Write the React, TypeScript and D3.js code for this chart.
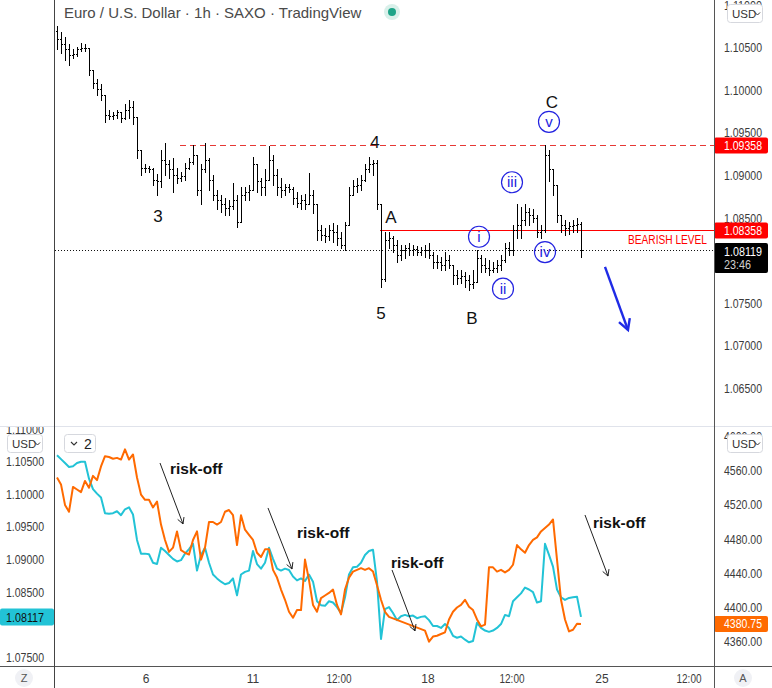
import React from "react";
import * as d3 from "d3";

// ---------- DATA ----------
// EUR/USD 1h bars (SAXO): highs, lows, closes (open = previous close)
const eurHigh = [
  1.1075, 1.1068, 1.1062, 1.1054, 1.1048, 1.1051, 1.1055, 1.1054, 1.105, 1.1022,
  1.1013, 1.1007, 1.0995, 1.0977, 1.0975, 1.0977, 1.0975, 1.0984, 1.0989, 1.0987,
  1.0968, 1.093, 1.0914, 1.0911, 1.0909, 1.0902, 1.093, 1.0938, 1.0918, 1.0921,
  1.0909, 1.0904, 1.0915, 1.0921, 1.0936, 1.0924, 1.0913, 1.0938, 1.0921, 1.0901,
  1.0883, 1.0877, 1.0874, 1.0871, 1.0891, 1.0877, 1.0886, 1.0886, 1.0889, 1.0922,
  1.0913, 1.0897, 1.0907, 1.0934, 1.0924, 1.0907, 1.0897, 1.089, 1.089, 1.0886,
  1.0881, 1.0877, 1.0878, 1.0903, 1.0883, 1.0866, 1.0842, 1.0838, 1.0842, 1.0844,
  1.0842, 1.0834, 1.0845, 1.0886, 1.0895, 1.0897, 1.09, 1.0913, 1.0922, 1.0918,
  1.0918, 1.0866, 1.0833, 1.0834, 1.0829, 1.0824, 1.0818, 1.0818, 1.0821, 1.0818,
  1.0817, 1.0816, 1.0818, 1.0821, 1.081, 1.0807, 1.0804, 1.081, 1.0807, 1.0795,
  1.0789, 1.0789, 1.0787, 1.0783, 1.0789, 1.0813, 1.0807, 1.0803, 1.0801, 1.0798,
  1.0801, 1.0807, 1.0821, 1.0822, 1.0842, 1.0866, 1.0863, 1.0866, 1.0862, 1.086,
  1.0854, 1.0842, 1.0936, 1.093, 1.0901, 1.0889, 1.0854, 1.0848, 1.0845, 1.0848,
  1.085, 1.0845,
];
const eurLow = [
  1.1048, 1.1044, 1.1036, 1.103, 1.1038, 1.104, 1.1046, 1.1046, 1.1018, 1.1003,
  1.0995, 1.0989, 1.0963, 1.0966, 1.0966, 1.0968, 1.0963, 1.0966, 1.0968, 1.096,
  1.0921, 1.0901, 1.0904, 1.0904, 1.0889, 1.0877, 1.0886, 1.0901, 1.0897, 1.088,
  1.0891, 1.0893, 1.0895, 1.0907, 1.0913, 1.0877, 1.0866, 1.0904, 1.0883, 1.0871,
  1.086, 1.0857, 1.0854, 1.0854, 1.086, 1.084, 1.0866, 1.0871, 1.0871, 1.0883,
  1.088, 1.0877, 1.0877, 1.0901, 1.0889, 1.0877, 1.0875, 1.0877, 1.0881, 1.0866,
  1.0863, 1.086, 1.086, 1.0866, 1.0856, 1.0824, 1.0824, 1.0822, 1.0824, 1.0822,
  1.0818, 1.0815, 1.0813, 1.0842, 1.0877, 1.0881, 1.0883, 1.0893, 1.0904, 1.0901,
  1.086, 1.0769, 1.0776, 1.0815, 1.081, 1.0798, 1.0801, 1.0803, 1.0807, 1.0807,
  1.0806, 1.0806, 1.0804, 1.0803, 1.0791, 1.0791, 1.0789, 1.0789, 1.0791, 1.0772,
  1.0772, 1.0774, 1.0769, 1.0766, 1.0768, 1.0777, 1.0787, 1.0786, 1.0783, 1.0786,
  1.0787, 1.0789, 1.0798, 1.0807, 1.0807, 1.0827, 1.0827, 1.0842, 1.0842, 1.0845,
  1.0828, 1.0827, 1.0834, 1.0893, 1.0877, 1.0845, 1.0833, 1.083, 1.0831, 1.0834,
  1.0834, 1.0804,
];
const eurClose = [
  1.106, 1.1054, 1.1048, 1.1042, 1.1043, 1.1048, 1.105, 1.105, 1.1024, 1.1008,
  1.1001, 1.0995, 1.0971, 1.097, 1.0971, 1.0974, 1.0968, 1.0977, 1.098, 1.0969,
  1.093, 1.0909, 1.0909, 1.0908, 1.0895, 1.0893, 1.0918, 1.0913, 1.0907, 1.0901,
  1.0897, 1.0899, 1.0909, 1.0916, 1.0924, 1.0883, 1.0907, 1.0918, 1.0895, 1.0877,
  1.0871, 1.0866, 1.0862, 1.0864, 1.0871, 1.0845, 1.0877, 1.0881, 1.0883, 1.0913,
  1.0893, 1.0886, 1.0895, 1.0918, 1.0901, 1.0886, 1.0883, 1.0886, 1.0884, 1.0874,
  1.0868, 1.0871, 1.0867, 1.0877, 1.0866, 1.0836, 1.083, 1.0829, 1.0836, 1.0834,
  1.0827, 1.0818, 1.0842, 1.0877, 1.0888, 1.0889, 1.0895, 1.0907, 1.0913, 1.0915,
  1.0866, 1.0778, 1.0824, 1.0827, 1.0818, 1.0807, 1.0813, 1.0815, 1.0813, 1.0814,
  1.081, 1.0812, 1.0813, 1.0807, 1.0798, 1.0798, 1.0795, 1.0801, 1.0795, 1.0783,
  1.078, 1.0782, 1.0777, 1.0773, 1.0775, 1.0803, 1.0795, 1.0791, 1.0789, 1.0791,
  1.0795, 1.0801, 1.0815, 1.0813, 1.0836, 1.0842, 1.0848, 1.0857, 1.0854, 1.085,
  1.0834, 1.0836, 1.0924, 1.0907, 1.0889, 1.0854, 1.0842, 1.0838, 1.0841, 1.0842,
  1.0843, 1.0812,
];
const firstOpen = 1.107;

// S&P 500 (right scale of lower pane), null = no session
const spx: (number | null)[] = [
  4552, 4544, 4520, 4512, 4541, 4538, 4535, 4548, 4540, 4554,
  4549, 4565, 4577, 4576, 4574, 4575, 4573, 4585, 4573, 4579,
  4552, 4532, 4526, 4526, 4517, 4524, 4497, 4479, 4465, 4470,
  4489, 4467, 4464, 4462, 4479, 4489, 4456, 4470, 4500, 4500,
  4497, 4500, 4512, 4514, 4508, 4473, 4508, 4491, 4485, 4479,
  4464, 4459, 4468, 4468, 4444, 4435, 4421, 4409, 4395, 4388,
  4397, 4397, 4456, 4432, 4403, 4395, 4411, 4414, 4417, 4421,
  4403, 4392, 4421, 4435, 4442, 4444, 4446, 4444, 4446, 4442,
  4426, 4409, 4395, 4389, null, null, null, null, null, null,
  null, null, 4373, 4360, 4366, 4367, 4369, 4371, 4386, 4395,
  4400, 4403, 4409, 4401, 4397, 4386, 4378, 4380, 4447, 4447,
  4442, 4444, 4441, 4444, 4450, 4473, 4468, 4464, 4473, 4479,
  4482, 4489, 4493, 4497, 4503, 4456, 4409, 4386, 4372, 4374,
  4381, 4380.75,
];

// tick labels (those hidden under the price labels are left out, as in the source)
const topTicks = [1.065, 1.07, 1.075, 1.085, 1.09, 1.095, 1.1, 1.105, 1.11];
const lowLeftTicks = [1.075, 1.085, 1.09, 1.095, 1.1, 1.105, 1.11];
const lowRightTicks = [4360, 4400, 4440, 4480, 4520, 4560, 4600];
const timeLabels = ["6", "11", "12:00", "18", "12:00", "25", "12:00"];
const timeBars = [22.25, 49, 70.5, 92.75, 113.75, 136.25, 158];

const resistance = 1.09358;
const bearish = 1.08358;
const lastPrice = 1.08119;
const lastEurLine = 1.08117;
const lastSpx = 4380.75;

const waveText = ["3", "4", "5", "A", "B", "C"];
const waveBar = [25.25, 79.5, 81, 83.5, 103.75, 123.75];
const wavePrice = [1.0852, 1.0939, 1.0738, 1.0851, 1.0733, 1.0986];

const subText = ["v", "iii", "i", "ii", "iv"];
const subBar = [123, 113.75, 105.5, 111.5, 122];
const subPrice = [1.0963, 1.0892, 1.0828, 1.0767, 1.081];

const riskBar = [28.25, 60, 83.5, 134];
const riskVal = [4562, 4487.7, 4452.6, 4499.4];
const arrowFromBar = [25.75, 52.75, 83.75, 132];
const arrowToBar = [31.5, 58.75, 89.5, 137.75];
const arrowFromVal = [4569, 4516.4, 4443.9, 4508.2];
const arrowToVal = [4497.7, 4445, 4372.6, 4436.8];

// ---------- CHART ----------
const FONT = "'Liberation Sans', Arial, sans-serif";
const AXIS = "#3b3b3b";

function head(x1: number, y1: number, x2: number, y2: number, len: number, ang: number) {
  const a = Math.atan2(y2 - y1, x2 - x1);
  const p1 = [x2 - len * Math.cos(a - ang), y2 - len * Math.sin(a - ang)];
  const p2 = [x2 - len * Math.cos(a + ang), y2 - len * Math.sin(a + ang)];
  return `M${p1[0]},${p1[1]}L${x2},${y2}L${p2[0]},${p2[1]}`;
}

function Num({ x, y, s, fill = AXIS, len = 38 }: { x: number; y: number; s: string; fill?: string; len?: number }) {
  return (
    <text x={x} y={y + 4.5} fontSize={12.5} fill={fill} fontFamily={FONT} textLength={len} lengthAdjust="spacingAndGlyphs">
      {s}
    </text>
  );
}

function UsdBtn({ x, y }: { x: number; y: number }) {
  return (
    <g>
      <rect x={x + 0.5} y={y + 0.5} width={35} height={18} rx={3} fill="#fff" stroke="#d6d8de" />
      <text x={x + 5} y={y + 13.5} fontSize={11.5} fill="#333" fontFamily={FONT}>USD</text>
      <path d={`M${x + 28},${y + 8.5}l2.5,2.5l2.5,-2.5`} fill="none" stroke="#333" strokeWidth={1} />
    </g>
  );
}

export default function App() {
  const xS = d3.scaleLinear().domain([0, 131]).range([57, 581]);
  const yT = d3.scaleLinear().domain([1.065, 1.105]).range([388.3, 47.7]);
  const yL = d3.scaleLinear().domain([1.075, 1.105]).range([657.3, 461.7]);
  const yR = d3.scaleLinear().domain([4360, 4560]).range([641.7, 470.7]);
  const px = (v: number) => Math.round(v) + 0.5;

  let bars = "";
  eurClose.forEach((c, i) => {
    const o = i === 0 ? firstOpen : eurClose[i - 1];
    const hi = Math.max(eurHigh[i], o, c);
    const lo = Math.min(eurLow[i], o, c);
    const x = px(xS(i));
    bars += `M${x},${Math.round(yT(hi))}V${Math.round(yT(lo)) + 1}`;
    bars += `M${x - 1.5},${px(yT(o))}H${x}M${x},${px(yT(c))}H${x + 1.5}`;
  });

  const cyan = d3.line<number>().x((_, i) => xS(i)).y((d) => yL(d))(eurClose) || "";
  const spxPts = spx.map((v, i) => [i, v] as [number, number | null]).filter((d) => d[1] != null) as [number, number][];
  const orange = d3.line<[number, number]>().x((d) => xS(d[0])).y((d) => yR(d[1]))(spxPts) || "";

  const yRes = px(yT(resistance));
  const yBear = px(yT(bearish));
  const yLast = px(yT(lastPrice));

  const bx1 = xS(137), by1 = yT(1.07925), bx2 = xS(142.75), by2 = yT(1.07185);

  return (
    <svg width={772} height={688} style={{ position: "absolute", left: 0, top: 0, background: "#fff" }}>
      <defs>
        <clipPath id="topc"><rect x={55} y={0} width={659} height={426} /></clipPath>
        <clipPath id="lowc"><rect x={55} y={427} width={659} height={239} /></clipPath>
        <clipPath id="lowaxis"><rect x={0} y={427} width={772} height={239} /></clipPath>
      </defs>
      <rect x={0} y={0} width={772} height={688} fill="#fff" />

      {/* ---- top pane ---- */}
      <g clipPath="url(#topc)">
        <line x1={xS(30.75)} x2={714} y1={yRes} y2={yRes} stroke="#e53935" strokeWidth={1} strokeDasharray="6,4" />
        <line x1={xS(80.75)} x2={714} y1={yBear} y2={yBear} stroke="#ff0000" strokeWidth={1.2} />
        <line x1={55} x2={714} y1={yLast} y2={yLast} stroke="#111" strokeWidth={1} strokeDasharray="1,2" />
        <path d={bars} stroke="#000" strokeWidth={1} fill="none" />
        {waveText.map((t, i) => (
          <text key={i} x={xS(waveBar[i])} y={yT(wavePrice[i]) + 6} fontSize={17} textAnchor="middle" fill="#111" fontFamily={FONT}>{t}</text>
        ))}
        {subText.map((t, i) => (
          <g key={i}>
            <circle cx={xS(subBar[i])} cy={yT(subPrice[i])} r={10.5} fill="none" stroke="#2323e0" strokeWidth={1.2} />
            <text x={xS(subBar[i])} y={yT(subPrice[i]) + 5} fontSize={15} textAnchor="middle" fill="#2323e0" fontFamily={FONT}>{t}</text>
          </g>
        ))}
        <text x={628} y={244} fontSize={12} fill="#ff0000" fontFamily={FONT} textLength={79} lengthAdjust="spacingAndGlyphs">BEARISH LEVEL</text>
        <line x1={bx1} y1={by1} x2={bx2} y2={by2} stroke="#1f2be6" strokeWidth={2.4} />
        <path d={head(bx1, by1, bx2, by2, 12, 0.5)} fill="none" stroke="#1f2be6" strokeWidth={2.4} />
      </g>

      {/* title */}
      <text x={64} y={18} fontSize={15} fill="#4a4a4a" fontFamily={FONT}>Euro / U.S. Dollar · 1h · SAXO · TradingView</text>
      <circle cx={392} cy={12} r={8} fill="#d9f0ea" />
      <circle cx={392} cy={12} r={4} fill="#1ea488" />

      {/* top right axis */}
      {topTicks.map((t) => (
        <Num key={t} x={724} y={yT(t)} s={t.toFixed(5)} />
      ))}
      <UsdBtn x={727} y={4} />
      <rect x={714} y={yRes - 8} width={54} height={16} rx={2} fill="#ff0000" />
      <Num x={724} y={yRes} s={resistance.toFixed(5)} fill="#fff" />
      <rect x={714} y={yBear - 8} width={54} height={16} rx={2} fill="#ff0000" />
      <Num x={724} y={yBear} s={bearish.toFixed(5)} fill="#fff" />
      <rect x={714} y={yLast - 7.5} width={54} height={30} rx={2} fill="#000" />
      <Num x={724} y={yLast + 1} s={lastPrice.toFixed(5)} fill="#fff" />
      <Num x={724} y={yLast + 14} s="23:46" fill="#d0d0d0" len={27} />

      {/* ---- lower pane ---- */}
      <g clipPath="url(#lowc)">
        <path d={cyan} fill="none" stroke="#22c3d6" strokeWidth={2} strokeLinejoin="round" />
        <path d={orange} fill="none" stroke="#ff6a00" strokeWidth={2} strokeLinejoin="round" />
        {riskBar.map((b, i) => (
          <text key={i} x={xS(b)} y={yR(riskVal[i]) + 5.5} fontSize={15.5} fontWeight="bold" fill="#111" fontFamily={FONT}>risk-off</text>
        ))}
        {arrowFromBar.map((b, i) => {
          const x1 = xS(b), y1 = yR(arrowFromVal[i]), x2 = xS(arrowToBar[i]), y2 = yR(arrowToVal[i]);
          return (
            <g key={i}>
              <line x1={x1} y1={y1} x2={x2} y2={y2} stroke="#222" strokeWidth={1} />
              <path d={head(x1, y1, x2, y2, 7, 0.5)} fill="none" stroke="#222" strokeWidth={1} />
            </g>
          );
        })}
      </g>
      <g clipPath="url(#lowaxis)">
        {lowLeftTicks.map((t) => (
          <Num key={t} x={6} y={yL(t)} s={t.toFixed(5)} />
        ))}
        {lowRightTicks.map((t) => (
          <Num key={t} x={724} y={yR(t)} s={t.toFixed(2)} />
        ))}
      </g>
      <UsdBtn x={7} y={434} />
      <UsdBtn x={727} y={434} />
      <g>
        <rect x={64.5} y={434.5} width={31} height={18} rx={3} fill="#fff" stroke="#d6d8de" />
        <path d="M71,442l3,3l3,-3" fill="none" stroke="#333" strokeWidth={1.1} />
        <text x={84} y={448.5} fontSize={14} fill="#222" fontFamily={FONT}>2</text>
      </g>
      <rect x={0} y={yL(lastEurLine) - 8.5} width={54} height={17} rx={2} fill="#22c3d6" />
      <Num x={6} y={yL(lastEurLine)} s={lastEurLine.toFixed(5)} fill="#111" />
      <rect x={714} y={yR(lastSpx) - 8} width={54} height={16} rx={2} fill="#ff6a00" />
      <Num x={724} y={yR(lastSpx)} s={lastSpx.toFixed(2)} fill="#fff" />

      {/* frame lines */}
      <line x1={0} x2={772} y1={426.5} y2={426.5} stroke="#e0e3eb" />
      <line x1={0} x2={772} y1={666.5} y2={666.5} stroke="#555" />
      <line x1={54.5} x2={54.5} y1={0} y2={688} stroke="#444" />
      <line x1={714.5} x2={714.5} y1={0} y2={688} stroke="#555" />

      {/* time axis */}
      {timeLabels.map((t, i) => (
        <text key={i} x={xS(timeBars[i])} y={682.5} fontSize={12} textAnchor="middle" fill={AXIS} fontFamily={FONT}
          {...(t.length > 2 ? { textLength: 25, lengthAdjust: "spacingAndGlyphs" } : {})}>{t}</text>
      ))}
      <circle cx={24} cy={678} r={9} fill="#f0f1f5" />
      <text x={24} y={682} fontSize={11} textAnchor="middle" fill="#555" fontFamily={FONT}>Z</text>
      <circle cx={743} cy={678} r={9} fill="#f0f1f5" />
      <text x={743} y={682} fontSize={11} textAnchor="middle" fill="#555" fontFamily={FONT}>A</text>
    </svg>
  );
}
